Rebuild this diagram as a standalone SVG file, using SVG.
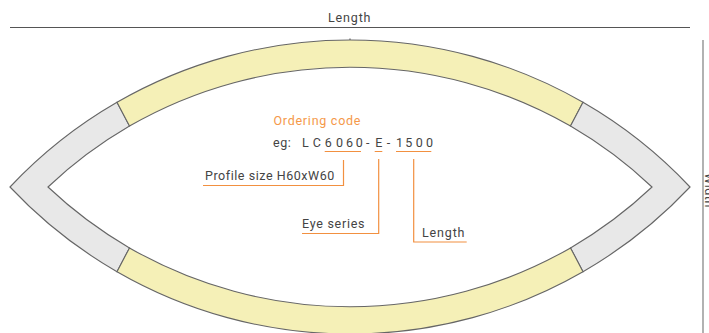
<svg xmlns="http://www.w3.org/2000/svg" width="709" height="333" viewBox="0 0 709 333">
<style>
.t{font-family:"Roboto","Liberation Sans",sans-serif;font-size:12.5px;fill:#444;letter-spacing:.55px}
.o{fill:#f5994a}
.seg{stroke:#666;stroke-width:1.100;stroke-linejoin:miter}
.gray{fill:#e8e8e8}
.yellow{fill:#f5f0b7}
.dim{stroke:#555;stroke-width:1.100;fill:none}
.lead{stroke:#f29040;stroke-width:1.200;fill:none}
</style>
<rect width="709" height="333" fill="#fff"/>
<g id="connectors">
<path class="dim" d="M10 27.500H690"/>
<path class="dim" d="M703 40V333" style="stroke:#888;stroke-width:1.300"/>
<path class="dim" d="M350 38.500V40"/>
<path class="lead" d="M324.700 151.500H361M374.700 151.500H382.300M396 151.500H431.300"/>
<path class="lead" d="M343.500 160V185.500H203"/>
<path class="lead" d="M378.700 159V233.500H302"/>
<path class="lead" d="M413.700 159V242H466.700"/>
</g>
<g id="segment-left"><path class="seg gray" d="M10 187A466.700 466.700 0 0 1 117 102.300L129.500 126.100A442.700 442.700 0 0 0 48 187A442.700 442.700 0 0 0 129.500 247.900L117 271.700A466.700 466.700 0 0 1 10 187Z"/></g>
<g id="segment-top"><path class="seg yellow" d="M117 102.300A466.700 466.700 0 0 1 583 102.300L570.500 126.100A442.700 442.700 0 0 0 129.500 126.100Z"/></g>
<g id="segment-right"><path class="seg gray" d="M690 187A466.700 466.700 0 0 0 583 102.300L570.500 126.100A442.700 442.700 0 0 1 652 187A442.700 442.700 0 0 1 570.500 247.900L583 271.700A466.700 466.700 0 0 0 690 187Z"/></g>
<g id="segment-bottom"><path class="seg yellow" d="M117 271.700A466.700 466.700 0 0 0 583 271.700L570.500 247.900A442.700 442.700 0 0 1 129.500 247.900Z"/></g>
<g id="labels">
<text class="t" x="328" y="22" textLength="43">Length</text>
<text class="t o" x="273.500" y="125" textLength="87.500">Ordering code</text>
<text class="t" x="273" y="146.500">eg:</text>
<text class="t" style="letter-spacing:0" y="146.500" x="302 310 312.700 322 324.700 334 336 344 346 354 355.700 364 366 373 375.300 384 386.700 394 396 403 405.300 413 415.700 424 426">L C 6 0 6 0 - E - 1 5 0 0</text>
<text class="t" x="205" y="180">Profile size H60xW60</text>
<text class="t" x="302" y="228" textLength="63">Eye series</text>
<text class="t" x="422" y="237" textLength="43">Length</text>
<text class="t" transform="translate(705 173) rotate(90)">Width</text>
</g>
</svg>
